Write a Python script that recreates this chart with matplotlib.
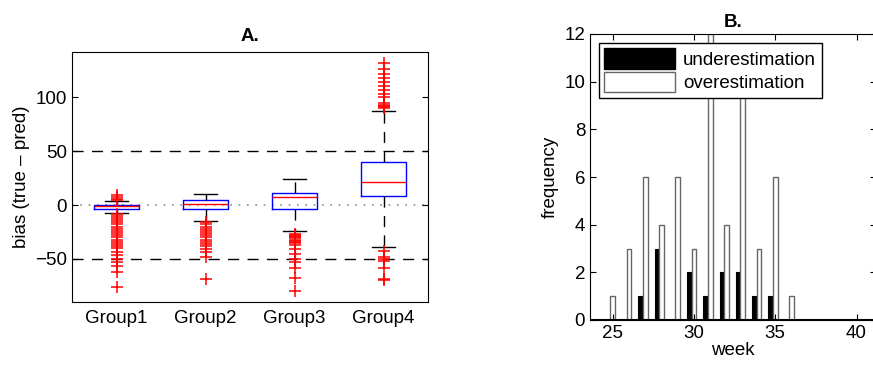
import matplotlib
matplotlib.use("Agg")
import matplotlib.pyplot as plt
from matplotlib.patches import Patch

plt.rcParams['font.family'] = ['Liberation Sans', 'DejaVu Sans']
plt.rcParams['font.size'] = 13.5

# panel A: box statistics
groups = ["Group1", "Group2", "Group3", "Group4"]
q1 = [-3.4, -3.4, -3.4, 8.1]
med = [-1.0, 1.0, 7.1, 21.7]
q3 = [0.3, 5.0, 10.9, 39.8]
whislo = [-7.1, -15.2, -24.2, -39.0]
whishi = [3.7, 10.6, 23.9, 87.0]
fliers = [
    [5, 6, 7, 9, -8, -10, -12, -14, -16, -18, -20, -22, -24, -26, -28, -30,
     -32, -34, -36, -38, -40, -44, -46, -50, -53, -57, -62, -76],
    [-16, -18, -20, -22, -24, -26, -28, -30, -32, -34, -36, -38, -41, -44,
     -48, -69],
    [-27, -28, -29, -30, -31, -32, -33, -34, -35, -37.5, -41, -45, -50, -53,
     -58, -68, -79.5],
    [90, 91, 92, 93, 95, 100, 103, 107, 110, 114, 118, 122, 126, 132,
     -43, -48, -50, -52, -58, -69, -70],
]

# panel B: histogram counts per week
weeks = [25, 26, 27, 28, 29, 30, 31, 32, 33, 34, 35, 36]
under = [0, 0, 1, 3, 0, 2, 1, 2, 2, 1, 1, 0]
over = [1, 3, 6, 4, 6, 3, 12, 4, 11, 3, 6, 1]

W, H = 873, 375
fig = plt.figure(figsize=(W / 100, H / 100), dpi=100)

# ---- A ----
ax1 = fig.add_axes([72 / W, 1 - 302 / H, (428 - 72) / W, (302 - 52) / H])
stats = []
for i in range(4):
    stats.append(dict(label=groups[i], q1=q1[i], med=med[i], q3=q3[i],
                      whislo=whislo[i], whishi=whishi[i], fliers=fliers[i]))
ax1.axhline(50, color='k', ls=(0, (8, 6)), lw=1, zorder=0)
ax1.axhline(-50, color='k', ls=(0, (8, 6)), lw=1, zorder=0)
ax1.axhline(0, color='0.55', ls=(0, (1, 4)), lw=1.2, zorder=0)
ax1.bxp(stats, widths=0.5, showfliers=True,
        boxprops=dict(color='blue', lw=1),
        medianprops=dict(color='red', lw=1),
        whiskerprops=dict(color='k', ls=(0, (8, 6)), lw=1),
        capprops=dict(color='k', lw=1),
        flierprops=dict(marker='+', markeredgecolor='red', markersize=9,
                        markeredgewidth=1.1, ls='none'))
ax1.set_xlim(0.5, 4.5)
ax1.set_ylim(-90, 142)
ax1.set_yticks([-50, 0, 50, 100])
ax1.set_ylabel("bias (true \u2013 pred)")
ax1.set_title("A.", fontweight='bold', fontsize=13.5, pad=8)
ax1.tick_params(direction='in', right=True, length=4)
ax1.tick_params(axis='x', length=0, pad=6)

# ---- B ----
ax2 = fig.add_axes([590 / W, 1 - 320 / H, (876 - 590) / W, (320 - 34) / H])
bw = 0.28
ax2.bar([w - bw for w in weeks], under, width=bw, color='k',
        edgecolor='k', lw=0.8, label='underestimation')
ax2.bar(weeks, over, width=bw, color='white', edgecolor='0.4', lw=1,
        label='overestimation')
ax2.axhline(0, color='k', lw=1.5)
ax2.set_xlim(23.6, 41.2)
ax2.set_ylim(0, 12)
ax2.set_xticks([25, 30, 35, 40])
ax2.set_yticks(range(0, 13, 2))
ax2.set_xlabel("week", labelpad=0)
ax2.set_ylabel("frequency")
ax2.set_title("B.", fontweight='bold', fontsize=13.5, pad=5)
ax2.tick_params(direction='in', top=True, right=True, length=4)
handles = [Patch(facecolor='k', edgecolor='k'),
           Patch(facecolor='white', edgecolor='0.4')]
ax2.legend(handles, ['underestimation', 'overestimation'], loc='upper left',
           bbox_to_anchor=(0.03, 0.97), fancybox=False, framealpha=1,
           edgecolor='k', handlelength=3.8, handleheight=1.3,
           borderpad=0.3, labelspacing=0.15, handletextpad=0.4,
           borderaxespad=0, fontsize=13.5)

fig.savefig("out.png", dpi=100)
